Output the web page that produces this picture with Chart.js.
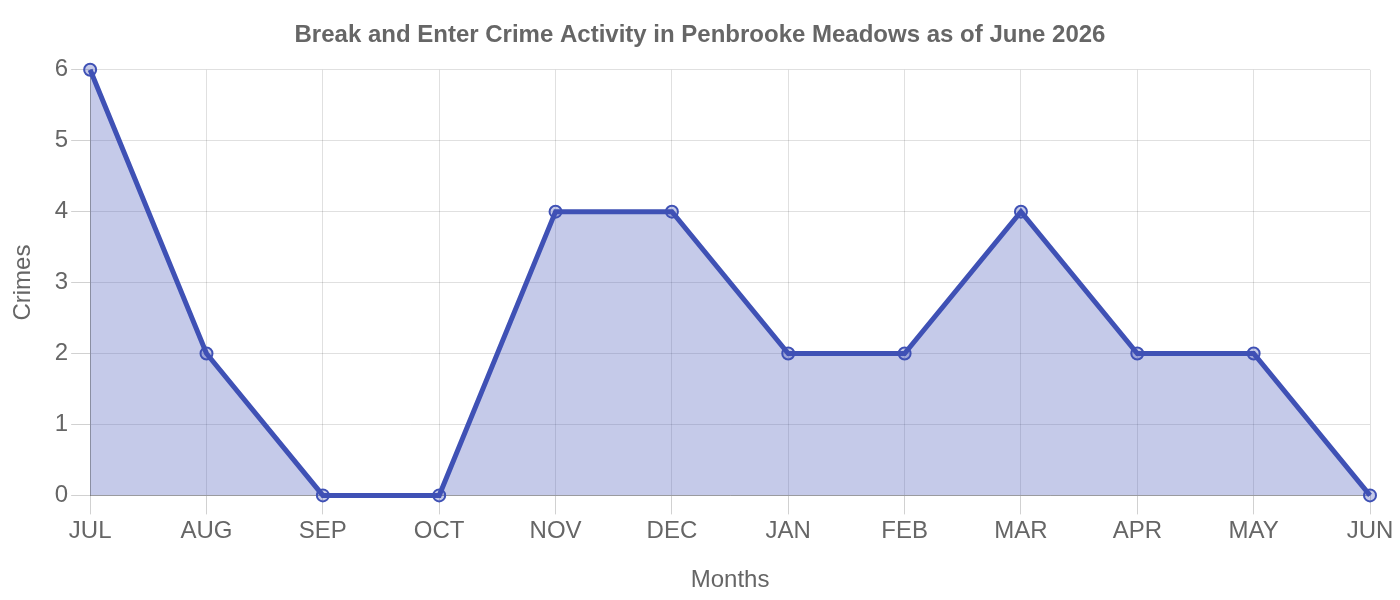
<!DOCTYPE html>
<html>
<head>
<meta charset="utf-8">
<script src="https://cdn.jsdelivr.net/npm/chart.js@4.4.0/dist/chart.umd.min.js"></script>
<style>
html,body{margin:0;padding:0;background:#fff;}
#wrap{width:1400px;height:600px;position:relative;}
</style>
</head>
<body>
<div id="wrap"><canvas id="c"></canvas></div>
<script>
const months = ["JUL","AUG","SEP","OCT","NOV","DEC","JAN","FEB","MAR","APR","MAY","JUN"];
const crimes = [6,2,0,0,4,4,2,2,4,2,2,0];
const titleText = "Break and Enter Crime Activity in Penbrooke Meadows as of June 2026";

Chart.defaults.font.family = "'Liberation Sans', Arial, Helvetica, sans-serif";
Chart.defaults.color = "#666";

new Chart(document.getElementById('c'), {
  type: 'line',
  data: {
    labels: months,
    datasets: [{
      label: 'Crimes',
      data: crimes,
      borderColor: '#3f51b5',
      backgroundColor: 'rgba(63,81,181,0.3)',
      fill: true,
      clip: false,
      borderWidth: 5,
      tension: 0,
      pointRadius: 6,
      pointBorderWidth: 2,
      pointBackgroundColor: 'rgba(63,81,181,0.3)',
      pointBorderColor: '#3f51b5'
    }]
  },
  options: {
    responsive: true,
    maintainAspectRatio: false,
    animation: false,
    layout: {padding: {left: 0, right: 0, top: 0, bottom: 0}},
    plugins: {
      legend: {display: false},
      title: {display: true, text: titleText, font: {size: 24, weight: 'bold'}, color: '#666', padding: {top: 21, bottom: 20}}
    },
    scales: {
      x: {
        afterFit: function(scale) { scale.paddingRight = 30; },
        title: {display: true, text: 'Months', font: {size: 24}, color: '#666', padding: {top: 17, bottom: 5}},
        ticks: {font: {size: 24}, color: '#666', padding: 3},
        grid: {color: 'rgba(0,0,0,0.12)', tickLength: 19, tickColor: 'rgba(0,0,0,0.18)'},
        border: {color: 'rgba(0,0,0,0.3)'}
      },
      y: {
        min: 0, max: 6,
        title: {display: true, text: 'Crimes', font: {size: 24}, color: '#666', padding: {top: 9, bottom: 14}},
        ticks: {font: {size: 24}, color: '#666', stepSize: 1, padding: 3},
        grid: {color: 'rgba(0,0,0,0.12)', tickLength: 19, tickColor: 'rgba(0,0,0,0.18)'},
        border: {color: 'rgba(0,0,0,0.3)'}
      }
    }
  }
});
</script>
</body>
</html>
